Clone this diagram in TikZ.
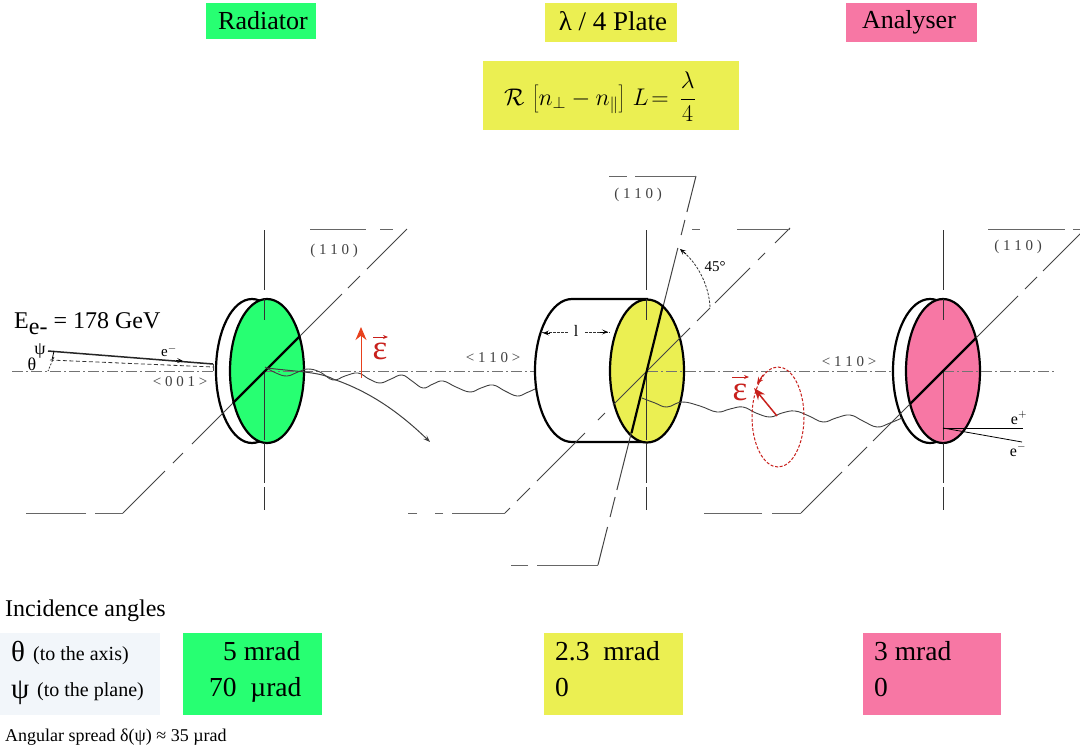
\documentclass[tikz,border=0pt]{standalone}
\usepackage{fontspec}
\setmainfont{Liberation Serif}
\usetikzlibrary{arrows.meta}
\definecolor{cgreen}{HTML}{27FF72}
\definecolor{cyellow}{HTML}{EBEF52}
\definecolor{cpink}{HTML}{F777A4}
\definecolor{cpanel}{HTML}{F2F6FA}
\definecolor{cred}{HTML}{C8201C}
\definecolor{cora}{HTML}{E8401C}
\definecolor{cgray}{HTML}{444444}
\newcommand{\fsz}[1]{\fontsize{#1}{#1}\selectfont}
\tikzset{
 plane/.style={line width=1pt,color=cgray},
 edgeline/.style={line width=1pt,color=black!60},
 thickdisc/.style={line width=2.2pt,draw=black},
 axisline/.style={line width=1pt,color=black!55,dash pattern=on 11pt off 3pt on 2pt off 3pt},
 vert/.style={line width=0.8pt,color=black!80},
 wave/.style={line width=0.9pt,color=black!75},
 lbl/.style={inner sep=0pt,anchor=center,text=black},
 west/.style={inner sep=0pt,anchor=base west,text=black},
 small/.style={lbl,font=\fsz{15},text=black!75},
 eps/.style={lbl,font=\fsz{35},text=cred},
 redarrow/.style={line width=1pt,color=cora,-{Stealth[length=13pt,width=11pt]}},
 dimtip/.style={-{Stealth[length=6pt,width=5pt,inset=3pt]}},
}
\begin{document}
\begin{tikzpicture}[x=1pt,y=-1pt]
\useasboundingbox (0,0) rectangle (1080,750);
\fill[white] (0,0) rectangle (1080,750);
\begin{scope}
\clip (0,0) rectangle (1080,750);
% title and table boxes
\fill[cgreen] (206,3) rectangle (316,39);
\fill[cyellow] (545,3) rectangle (677,42);
\fill[cpink] (846,3) rectangle (977,42);
\fill[cyellow] (483,61) rectangle (739,130);
\fill[cpanel] (0,633) rectangle (160,715);
\fill[cgreen] (183,633) rectangle (322,715);
\fill[cyellow] (544,633) rectangle (683,715);
\fill[cpink] (863,633) rectangle (1001,715);
% axis
\draw[axisline] (12,371) -- (214,371);
\draw[axisline] (264,371) -- (535,371);
\draw[axisline] (647,371) -- (892,371);
% discs
\filldraw[thickdisc,fill=white] (252,371) ellipse [x radius=36,y radius=72];
\filldraw[thickdisc,fill=cgreen] (267,371) ellipse [x radius=37,y radius=72];
\filldraw[thickdisc,fill=white] (930,371) ellipse [x radius=37,y radius=72];
\filldraw[thickdisc,fill=cpink] (943,371) ellipse [x radius=37,y radius=72];
\filldraw[thickdisc,fill=white] (647,299) -- (572,299) arc[start angle=-90,end angle=-270,x radius=37,y radius=71.5] -- (647,442) -- cycle;
\filldraw[thickdisc,fill=cyellow] (647,371) ellipse [x radius=37,y radius=71.5];
% axis over the right half of each disc
\draw[axisline] (264,371) -- (304,371);
\draw[axisline] (647,371) -- (684,371);
\draw[axisline] (943,371) -- (1055,371);
% verticals
\foreach \xx in {264.5,646.5,943}{
 \draw[vert] (\xx,230) -- (\xx,290) (\xx,299) -- (\xx,320) (\xx,371) -- (\xx,440) (\xx,443) -- (\xx,483) (\xx,487) -- (\xx,510);
}
% radiator plane
\foreach \a/\b in {407/367,360/348,342/300,233/192,183/173,165/123}{
 \draw[plane] (\a,636-\a) -- (\b,636-\b);
}
\draw[thickdisc] (300,336) -- (233,403);
\draw[edgeline] (310,229) -- (366,229) (380,229) -- (393,229);
\draw[edgeline] (123,513) -- (95,513) (86,513) -- (26,513);
% plate plane
\foreach \a/\b in {790/775,765/758,750/715,710/697,690/682,682/613,605/598,585/577,577/537,530/517,510/505}{
 \draw[plane] (\a,1018-\a) -- (\b,1018-\b);
}
\draw[edgeline] (692,229) -- (700,229) (737,229) -- (790,229);
\draw[edgeline] (505,513) -- (452,513) (443,513) -- (435,513) (417,513) -- (408,513);
% steep plane
\foreach \a/\b in {176/212,220/235,248/305,433/490,497/517,527/565}{
 \draw[plane] ({696-0.252*(\a-176)},\a) -- ({696-0.252*(\b-176)},\b);
}
\draw[thickdisc] (663,305) -- (631.5,433);
\draw[edgeline] (609,176) -- (627,176) (635,176) -- (696,176);
\draw[edgeline] (598,565) -- (537,565) (528,565) -- (511,565);
% analyser plane
\foreach \a/\b in {1085/1043,1037/1025,1018/976,910/873,867/848,842/801}{
 \draw[plane] (\a,1314-\a) -- (\b,1314-\b);
}
\draw[thickdisc] (976,338) -- (910,404);
\draw[edgeline] (988,229) -- (1065,229) (1073,229) -- (1080,229);
\draw[edgeline] (801,513) -- (772,513) (762,513) -- (704,513);
% 45 degree arc
\draw[line width=0.8pt,dash pattern=on 2.5pt off 1.5pt,color=black!80] (710,307) .. controls (709,285) and (697,262) .. (681,250);
\draw[line width=0.8pt,color=black,-{Stealth[length=6pt,width=5pt,inset=3pt]}] (686,254) -- (680,249);
\node[lbl,font=\fsz{15}] (a45) at (715,267) {45°};
% thickness l
\draw[line width=0.8pt,dash pattern=on 2.5pt off 1.5pt,color=black!80] (541,332) -- (568,332) (585,332) -- (610,332);
\draw[line width=0.8pt,dimtip] (550,333) -- (543,333);
\draw[line width=0.8pt,dimtip] (600,332) -- (608,332);
\node[lbl,font=\fsz{16}] (thick) at (576,331) {l};
% incoming electron
\draw[line width=1.5pt,color=black!85] (48,351) -- (213,364);
\draw[line width=0.8pt,dash pattern=on 4pt off 2.5pt,color=black!80] (50,360) -- (213,367);
\draw[line width=0.8pt,dash pattern=on 2pt off 1.5pt,color=black!80] (54,357) -- (48,371);
\draw[line width=0.8pt] (54,351) -- (52,360);
\draw[line width=0.8pt,-{Stealth[length=6pt,width=5pt,inset=3pt]}] (176,360.5) -- (183,361);
\draw[line width=0.7pt,color=black!70] (213,364) -- (213,371);
% waves
\draw[wave] plot[smooth,tension=0.7] coordinates {(265,367) (276,373) (287,376) (298,372) (308,369) (320,372) (333,380) (345,376) (358,373) (369,379) (380,383) (391,379) (402,375) (412,381) (423,388) (433,384) (443,381) (456,387) (470,392) (481,388) (493,385) (505,391) (517,396) (526,393) (535,389)};
\draw[wave] plot[smooth,tension=0.7] coordinates {(642,398) (655,403) (667,407) (682,402) (700,406) (717,412) (730,409) (743,407) (756,413) (770,417) (782,413) (795,411) (809,416) (823,422) (836,418) (850,415) (863,421) (877,427) (890,423) (902,418)};
\draw[wave,line width=1pt,-{Stealth[length=7pt,width=5pt,inset=3pt]}] (267,368) .. controls (300,372) and (320,372) .. (333,379) .. controls (365,390) and (395,408) .. (430,442);
% polarisation
\draw[redarrow] (361,378) -- (361,327);
\node[eps] (eps1) at (380,351) {ε};
\draw[line width=1pt,color=cred,-{Stealth[length=5pt,width=4pt]}] (373,337) -- (388,337);
\draw[line width=1pt,color=cred,dash pattern=on 3pt off 1.7pt] (778,417) ellipse [x radius=26,y radius=50];
\draw[line width=1.5pt,color=cred,-{Stealth[length=12pt,width=9pt]}] (777,416) -- (754,388);
\draw[line width=1pt,color=cred,-{Stealth[length=7pt,width=6pt,inset=3pt]}] (763,375) -- (757,384);
\node[eps] (eps2) at (740,392) {ε};
\draw[line width=1pt,color=cred,-{Stealth[length=5pt,width=4pt]}] (732,377) -- (749,377);
% e+ e- lines
\node[inner sep=0pt] (spot) at (943,428) {};
\draw[line width=1pt] (spot.center) -- (1023,428);
\draw[line width=0.8pt] (spot.center) -- (1022,442);
\node[lbl,font=\fsz{16}] (ep) at (1019,418) {e$^{+}$};
\node[lbl,font=\fsz{16}] (em) at (1018,450) {e$^{-}$};
% small labels
\node[small] (l1) at (334,250.5) {( 1 1 0 )};
\node[small] (l2) at (638,194.5) {( 1 1 0 )};
\node[small] (l3) at (1018,246.5) {( 1 1 0 )};
\node[small] (l4) at (493,358) {< 1 1 0 >};
\node[small] (l5) at (849,362) {< 1 1 0 >};
\node[small] (l6) at (180,382) {< 0 0 1 >};
\node[lbl,font=\fsz{15}] (el) at (169,351) {e$^{-}$};
\node[lbl,font=\fsz{18}] (th) at (32,364) {θ};
\node[lbl,font=\fsz{18}] (ps) at (40,351) {ψ};
\node[west,font=\fsz{24}] (en) at (14,328) {E\raisebox{-6pt}{e-} = 178 GeV};
% titles
\node[lbl,font=\fsz{26}] (t1) at (263,21) {Radiator};
\node[lbl,font=\fsz{27}] (t2) at (613,21) {λ / 4 Plate};
\node[lbl,font=\fsz{26}] (t3) at (909,22) {Analyser};
\node[lbl,font=\fsz{20}] (fm) at (600,97) {\scalebox{1.16}{$\displaystyle\mathcal{R}\,\left[n_\perp - n_{\parallel}\right]\,L\!=\,\frac{\lambda}{4}$}};
% table
\node[west,font=\fsz{24}] (ia) at (5,616) {Incidence angles};
\node[west,font=\fsz{29}] (pth) at (11,661) {θ};
\node[west,font=\fsz{20}] (pth2) at (33,660) {(to the axis)};
\node[west,font=\fsz{29}] (pps) at (11,698) {ψ};
\node[west,font=\fsz{20}] (pps2) at (37,696) {(to the plane)};
\node[west,font=\fsz{27.5}] (g1) at (223,660) {5 mrad};
\node[west,font=\fsz{27.5}] (g2) at (209,696) {70\ \ µrad};
\node[west,font=\fsz{27.5}] (y1) at (555,660) {2.3\ \ mrad};
\node[west,font=\fsz{27.5}] (y2) at (555,696) {0};
\node[west,font=\fsz{27.5}] (p1) at (874,660) {3 mrad};
\node[west,font=\fsz{27.5}] (p2) at (874,696) {0};
\node[west,font=\fsz{18}] (as) at (5,741) {Angular spread δ(ψ) ≈ 35 µrad};
\end{scope}
\end{tikzpicture}
\end{document}
